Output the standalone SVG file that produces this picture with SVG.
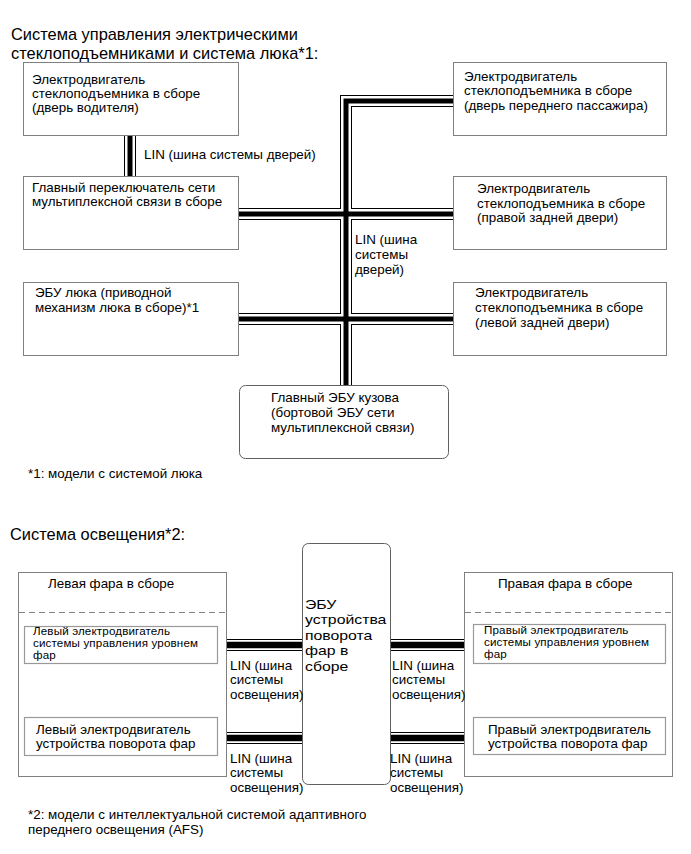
<svg xmlns="http://www.w3.org/2000/svg" width="691" height="854" viewBox="0 0 691 854">
<style>
text{font-family:"Liberation Sans",Arial,sans-serif;fill:#000}
.t16{font-size:16.4px}
.t13{font-size:13.4px}
.t12{font-size:11.6px;letter-spacing:0.15px}
.box{fill:#fff;stroke:#808080;stroke-width:1}
.rbox{fill:#fff;stroke:#606060;stroke-width:1}
.ibox{fill:#fff;stroke:#999;stroke-width:1.2}
.dash{stroke:#808080;stroke-width:1;stroke-dasharray:6 4;fill:none}
.bo{fill:none;stroke:#000;stroke-width:12;stroke-linejoin:miter}
.bw{fill:none;stroke:#fff;stroke-width:10;stroke-linejoin:miter}
.bi{fill:none;stroke:#000;stroke-width:5;stroke-linejoin:miter}
.bi2{fill:none;stroke:#000;stroke-width:6.5}
</style>
<defs>
<path id="p1" d="M130,136V176"/>
<path id="p2" d="M238,214H346"/>
<path id="p3" d="M238,319H346"/>
<path id="p4" d="M453,101H346V385"/>
<path id="p5" d="M346,214H453"/>
<path id="p6" d="M346,319H453"/>
<path id="l1" d="M217,645H302"/>
<path id="l2" d="M390,645H473"/>
<path id="l3" d="M217,738H302"/>
<path id="l4" d="M390,738H473"/>
</defs>

<text class="t16" x="11" y="40">Система управления электрическими</text>
<text class="t16" x="11" y="59">стеклоподъемниками и система люка*1:</text>

<g id="connectors">
<g class="bo"><use href="#p1"/><use href="#p2"/><use href="#p3"/><use href="#p4"/><use href="#p5"/><use href="#p6"/><use href="#l1"/><use href="#l2"/><use href="#l3"/><use href="#l4"/></g>
<g class="bw"><use href="#p1"/><use href="#p2"/><use href="#p3"/><use href="#p4"/><use href="#p5"/><use href="#p6"/><use href="#l1"/><use href="#l2"/><use href="#l3"/><use href="#l4"/></g>
<g class="bi"><use href="#p1"/><use href="#p2"/><use href="#p3"/><use href="#p4"/><use href="#p5"/><use href="#p6"/></g>
<g class="bi2"><use href="#l1"/><use href="#l2"/><use href="#l3"/><use href="#l4"/></g>
<text class="t13" x="144" y="159">LIN (шина системы дверей)</text>
<text class="t13" x="355" y="244">LIN (шина</text>
<text class="t13" x="355" y="259">системы</text>
<text class="t13" x="355" y="274">дверей)</text>
</g>

<g id="n-driver">
<rect class="box" x="23.5" y="62.5" width="215" height="73"/>
<text class="t13" x="32" y="84">Электродвигатель</text>
<text class="t13" x="32" y="98">стеклоподъемника в сборе</text>
<text class="t13" x="32" y="112">(дверь водителя)</text>
</g>
<g id="n-main-switch">
<rect class="box" x="23.5" y="176.5" width="215" height="73"/>
<text class="t13" x="32" y="192">Главный переключатель сети</text>
<text class="t13" x="32" y="206">мультиплексной связи в сборе</text>
</g>
<g id="n-sunroof">
<rect class="box" x="23.5" y="282.5" width="215" height="73"/>
<text class="t13" x="35" y="297">ЭБУ люка (приводной</text>
<text class="t13" x="35" y="312">механизм люка в сборе)*1</text>
</g>
<g id="n-passenger">
<rect class="box" x="453.5" y="62.5" width="213" height="73"/>
<text class="t13" x="464" y="81">Электродвигатель</text>
<text class="t13" x="464" y="95">стеклоподъемника в сборе</text>
<text class="t13" x="464" y="110">(дверь переднего пассажира)</text>
</g>
<g id="n-right-rear">
<rect class="box" x="453.5" y="176.5" width="213" height="73"/>
<text class="t13" x="477" y="193">Электродвигатель</text>
<text class="t13" x="477" y="208">стеклоподъемника в сборе</text>
<text class="t13" x="477" y="222">(правой задней двери)</text>
</g>
<g id="n-left-rear">
<rect class="box" x="453.5" y="282.5" width="213" height="73"/>
<text class="t13" x="475" y="297">Электродвигатель</text>
<text class="t13" x="475" y="312">стеклоподъемника в сборе</text>
<text class="t13" x="475" y="327">(левой задней двери)</text>
</g>
<g id="n-body-ecu">
<rect class="rbox" x="239.5" y="385.5" width="209" height="73" rx="6"/>
<text class="t13" x="271" y="402">Главный ЭБУ кузова</text>
<text class="t13" x="271" y="417">(бортовой ЭБУ сети</text>
<text class="t13" x="271" y="432">мультиплексной связи)</text>
</g>

<text class="t13" x="28" y="478">*1: модели с системой люка</text>

<text class="t16" x="10" y="540">Система освещения*2:</text>

<g id="n-left-lamp">
<rect class="box" x="18.5" y="572.5" width="208" height="204"/>
<line class="dash" x1="19" y1="612.5" x2="226" y2="612.5"/>
<text class="t13" x="48" y="588">Левая фара в сборе</text>
</g>
<g id="n-right-lamp">
<rect class="box" x="464.5" y="572.5" width="208" height="204"/>
<line class="dash" x1="465" y1="612.5" x2="672" y2="612.5"/>
<text class="t13" x="498" y="588">Правая фара в сборе</text>
</g>
<g id="n-left-level">
<rect class="ibox" x="24.5" y="626.5" width="193" height="37"/>
<text class="t12" x="33" y="635">Левый электродвигатель</text>
<text class="t12" x="33" y="647">системы управления уровнем</text>
<text class="t12" x="33" y="659">фар</text>
</g>
<g id="n-right-level">
<rect class="ibox" x="473.5" y="624.5" width="192" height="39"/>
<text class="t12" x="484" y="634">Правый электродвигатель</text>
<text class="t12" x="484" y="646">системы управления уровнем</text>
<text class="t12" x="484" y="658">фар</text>
</g>
<g id="n-left-swivel">
<rect class="ibox" x="24.5" y="717.5" width="193" height="38"/>
<text class="t13" x="36" y="734">Левый электродвигатель</text>
<text class="t13" x="36" y="748">устройства поворота фар</text>
</g>
<g id="n-right-swivel">
<rect class="ibox" x="473.5" y="717.5" width="192" height="37"/>
<text class="t13" x="488" y="734">Правый электродвигатель</text>
<text class="t13" x="488" y="748">устройства поворота фар</text>
</g>
<g id="n-afs-ecu">
<rect class="rbox" x="302.5" y="543.5" width="88" height="241" rx="6"/>
<g transform="translate(305,0) scale(1.18,1)">
<text class="t13" x="0" y="609">ЭБУ</text>
<text class="t13" x="0" y="624.5">устройства</text>
<text class="t13" x="0" y="640">поворота</text>
<text class="t13" x="0" y="655.5">фар в</text>
<text class="t13" x="0" y="671">сборе</text>
</g>
</g>

<g id="lin-labels">
<text class="t13" x="230" y="670">LIN (шина</text>
<text class="t13" x="230" y="684">системы</text>
<text class="t13" x="230" y="699">освещения)</text>
<text class="t13" x="392" y="670">LIN (шина</text>
<text class="t13" x="392" y="684">системы</text>
<text class="t13" x="392" y="699">освещения)</text>
<text class="t13" x="230" y="763">LIN (шина</text>
<text class="t13" x="230" y="777">системы</text>
<text class="t13" x="230" y="792">освещения)</text>
<text class="t13" x="390" y="763">LIN (шина</text>
<text class="t13" x="390" y="777">системы</text>
<text class="t13" x="390" y="792">освещения)</text>
</g>

<text class="t13" x="28" y="819">*2: модели с интеллектуальной системой адаптивного</text>
<text class="t13" x="28" y="834">переднего освещения (AFS)</text>
</svg>
